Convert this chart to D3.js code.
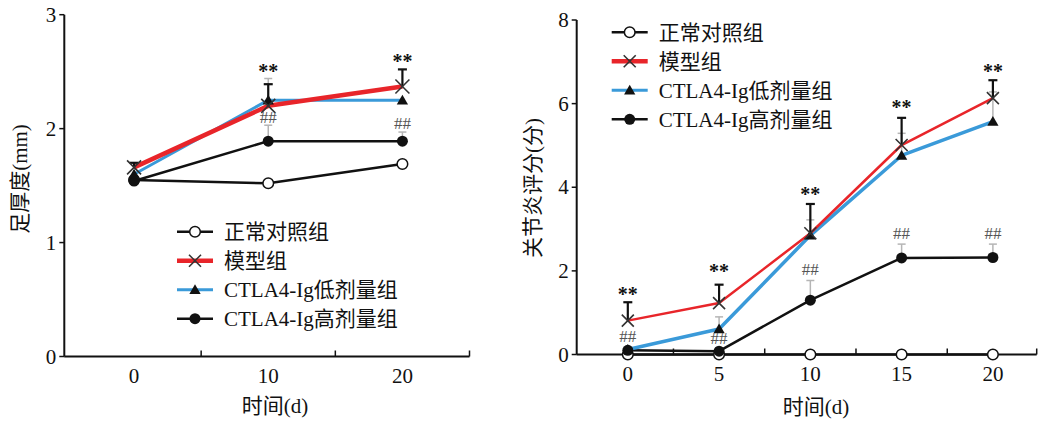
<!DOCTYPE html>
<html><head><meta charset="utf-8">
<script src="https://cdn.jsdelivr.net/npm/d3@7/dist/d3.min.js"></script>
<style>
html,body{margin:0;padding:0;background:#fff;}
text{font-family:"Liberation Serif","Noto Sans CJK SC",serif;fill:#111;}
</style></head>
<body>
<svg id="c" width="1038" height="423"></svg>
<script>
// ---------- data ----------
const seriesNames = ["正常对照组", "模型组", "CTLA4-Ig低剂量组", "CTLA4-Ig高剂量组"];

// Left panel: paw thickness (mm)
const daysL = [0, 10, 20];
const normalL = [1.55, 1.52, 1.69];
const modelL  = [1.66, 2.20, 2.37];
const lowL    = [1.60, 2.25, 2.25];
const highL   = [1.54, 1.89, 1.89];
const normalErrL = [0, 0, 0.03];
const modelErrL  = [0.04, 0.19, 0.15];
const lowErrL    = [0, 0.19, 0];
const highErrL   = [0, 0.14, 0.08];
const starsL = [null, 2.53, 2.62];
const hashL  = [null, 2.10, 2.05];
const yTicksL = [0, 1, 2, 3];
const xLabelsL = [0, 10, 20];
const xMinorL = [5, 15, 25];

// Right panel: arthritis score
const daysR = [0, 5, 10, 15, 20];
const normalR = [0, 0, 0, 0, 0];
const modelR  = [0.81, 1.23, 2.90, 5.01, 6.13];
const lowR    = [0.12, 0.61, 2.85, 4.76, 5.57];
const highR   = [0.10, 0.08, 1.30, 2.31, 2.32];
const normalErrR = [0, 0, 0, 0, 0];
const modelErrR  = [0.44, 0.44, 0.70, 0.65, 0.43];
const lowErrR    = [0, 0.29, 0.37, 0.53, 0.71];
const highErrR   = [0, 0, 0.47, 0.33, 0.32];
const starsR = [1.53, 2.06, 3.92, 5.99, 6.85];
const hashR  = [0.44, 0.39, 2.04, 2.90, 2.90];
const yTicksR = [0, 2, 4, 6, 8];
const xLabelsR = [0, 5, 10, 15, 20];
const xMinorR = [2.5, 7.5, 12.5, 17.5, 22.4];

const svg = d3.select("#c");

function panel(cfg) {
  const g = svg.append("g");
  const x = cfg.x, y = cfg.y;
  const y0 = y(0);

  // axes lines
  g.append("line").attr("x1", x.range()[0]).attr("x2", x.range()[1])
    .attr("y1", y0).attr("y2", y0).attr("stroke", "#111").attr("stroke-width", 2);
  g.append("line").attr("x1", x.range()[0]).attr("x2", x.range()[0])
    .attr("y1", y0).attr("y2", y.range()[1]).attr("stroke", "#111").attr("stroke-width", 2);

  // y ticks
  cfg.yTicks.forEach(t => {
    g.append("line").attr("x1", x.range()[0] - 5).attr("x2", x.range()[0])
      .attr("y1", y(t)).attr("y2", y(t)).attr("stroke", "#111").attr("stroke-width", 1.5);
    g.append("text").attr("x", x.range()[0] - 8).attr("y", y(t) + 7)
      .attr("text-anchor", "end").attr("font-size", 21).text(t);
  });
  // x minor ticks (inside)
  cfg.xMinor.forEach(t => {
    g.append("line").attr("x1", x(t)).attr("x2", x(t))
      .attr("y1", y0).attr("y2", y0 - 6).attr("stroke", "#111").attr("stroke-width", 1.5);
  });
  cfg.xLabels.forEach(t => {
    g.append("text").attr("x", x(t)).attr("y", y0 + 26)
      .attr("text-anchor", "middle").attr("font-size", 21).text(t);
  });
  // axis titles
  g.append("text").attr("x", cfg.xTitlePos[0]).attr("y", cfg.xTitlePos[1])
    .attr("text-anchor", "middle").attr("font-size", 21).text("时间(d)");
  g.append("text").attr("transform", `translate(${cfg.yTitlePos[0]},${cfg.yTitlePos[1]}) rotate(-90)`)
    .attr("text-anchor", "middle").attr("dominant-baseline", "central")
    .attr("font-size", 21).text(cfg.yTitle);

  const series = [
    {name: seriesNames[0], v: cfg.normal, e: cfg.normalErr, color: "#111", w: 2.5, m: "circleOpen"},
    {name: seriesNames[3], v: cfg.high, e: cfg.highErr, color: "#111", w: 2.5, m: "circle"},
    {name: seriesNames[2], v: cfg.low, e: cfg.lowErr, color: "#3a9ad9", w: cfg.wLow, m: "tri"},
    {name: seriesNames[1], v: cfg.model, e: cfg.modelErr, color: "#e8252a", w: cfg.wModel, m: "x"}
  ];

  // grey error bars
  series.forEach(s => {
    if (s.m === "x") return;
    s.v.forEach((v, i) => {
      if (!s.e[i]) return;
      const xi = x(cfg.days[i]);
      g.append("line").attr("x1", xi).attr("x2", xi).attr("y1", y(v)).attr("y2", y(v + s.e[i]))
        .attr("stroke", "#b5b5b5").attr("stroke-width", 1.5);
      g.append("line").attr("x1", xi - 4).attr("x2", xi + 4).attr("y1", y(v + s.e[i])).attr("y2", y(v + s.e[i]))
        .attr("stroke", "#b5b5b5").attr("stroke-width", 1.5);
    });
  });

  const line = d3.line().x((d, i) => x(cfg.days[i])).y(d => y(d));
  series.forEach(s => {
    g.append("path").attr("d", line(s.v)).attr("fill", "none")
      .attr("stroke", s.color).attr("stroke-width", s.w).attr("stroke-linejoin", "round");
  });

  // model error bars (black)
  const sm = series[3];
  sm.v.forEach((v, i) => {
    if (!sm.e[i]) return;
    const xi = x(cfg.days[i]);
    g.append("line").attr("x1", xi).attr("x2", xi).attr("y1", y(v)).attr("y2", y(v + sm.e[i]))
      .attr("stroke", "#111").attr("stroke-width", 2.2);
    g.append("line").attr("x1", xi - 4.5).attr("x2", xi + 4.5).attr("y1", y(v + sm.e[i])).attr("y2", y(v + sm.e[i]))
      .attr("stroke", "#111").attr("stroke-width", 2.2);
  });

  function marker(gg, type, cx, cy, xs) {
    if (type === "circleOpen") {
      gg.append("circle").attr("cx", cx).attr("cy", cy).attr("r", 5.3)
        .attr("fill", "#fff").attr("stroke", "#111").attr("stroke-width", 1.5);
    } else if (type === "circle") {
      gg.append("circle").attr("cx", cx).attr("cy", cy).attr("r", 5.5).attr("fill", "#111");
    } else if (type === "tri") {
      gg.append("path").attr("d", d3.symbol(d3.symbolTriangle, 55)())
        .attr("transform", `translate(${cx},${cy + 1})`).attr("fill", "#111");
    } else {
      const h = xs;
      gg.append("path").attr("d", `M${cx - h},${cy - h}L${cx + h},${cy + h}M${cx - h},${cy + h}L${cx + h},${cy - h}`)
        .attr("stroke", "#333").attr("stroke-width", 1.6).attr("fill", "none");
    }
  }
  series.forEach(s => {
    s.v.forEach((v, i) => marker(g, s.m, x(cfg.days[i]), y(v), cfg.xSize));
  });

  // annotations
  cfg.stars.forEach((v, i) => {
    if (v == null) return;
    g.append("text").attr("x", x(cfg.days[i])).attr("y", y(v) + 10)
      .attr("text-anchor", "middle").attr("font-size", 20).attr("font-weight", "bold").text("**");
  });
  cfg.hash.forEach((v, i) => {
    if (v == null) return;
    g.append("text").attr("x", x(cfg.days[i])).attr("y", y(v) + 6)
      .attr("text-anchor", "middle").attr("font-size", 17).style("fill", "#555").text("##");
  });

  // legend
  const lg = cfg.legend;
  const order = [series[0], series[3], series[2], series[1]];
  order.forEach((s, i) => {
    const ly = lg.y + i * lg.dy;
    g.append("line").attr("x1", lg.x).attr("x2", lg.x + 36).attr("y1", ly).attr("y2", ly)
      .attr("stroke", s.color).attr("stroke-width", s.m === "x" ? 4.5 : (s.m === "tri" ? 3 : 2.5));
    marker(g, s.m, lg.x + 18, ly, 6);
    g.append("text").attr("x", lg.x + 47).attr("y", ly + 7.5).attr("font-size", 21).text(s.name);
  });
}

panel({
  x: d3.scaleLinear().domain([-5.2, 25]).range([64.3, 469.5]),
  y: d3.scaleLinear().domain([0, 3]).range([356.5, 14.7]),
  days: daysL, normal: normalL, model: modelL, low: lowL, high: highL,
  normalErr: normalErrL, modelErr: modelErrL, lowErr: lowErrL, highErr: highErrL,
  stars: starsL, hash: hashL, yTicks: yTicksL, xLabels: xLabelsL, xMinor: xMinorL,
  wModel: 4.5, wLow: 3, xSize: 7,
  xTitlePos: [275, 413], yTitlePos: [20, 179], yTitle: "足厚度(mm)",
  legend: {x: 177, y: 231.7, dy: 29}
});

panel({
  x: d3.scaleLinear().domain([-2.8, 22.4]).range([576.7, 1036.7]),
  y: d3.scaleLinear().domain([0, 8]).range([354.5, 20]),
  days: daysR, normal: normalR, model: modelR, low: lowR, high: highR,
  normalErr: normalErrR, modelErr: modelErrR, lowErr: lowErrR, highErr: highErrR,
  stars: starsR, hash: hashR, yTicks: yTicksR, xLabels: xLabelsR, xMinor: xMinorR,
  wModel: 2.5, wLow: 3.5, xSize: 6,
  xTitlePos: [816, 414], yTitlePos: [533, 188], yTitle: "关节炎评分(分)",
  legend: {x: 611.7, y: 32.3, dy: 29}
});
</script>
</body></html>
